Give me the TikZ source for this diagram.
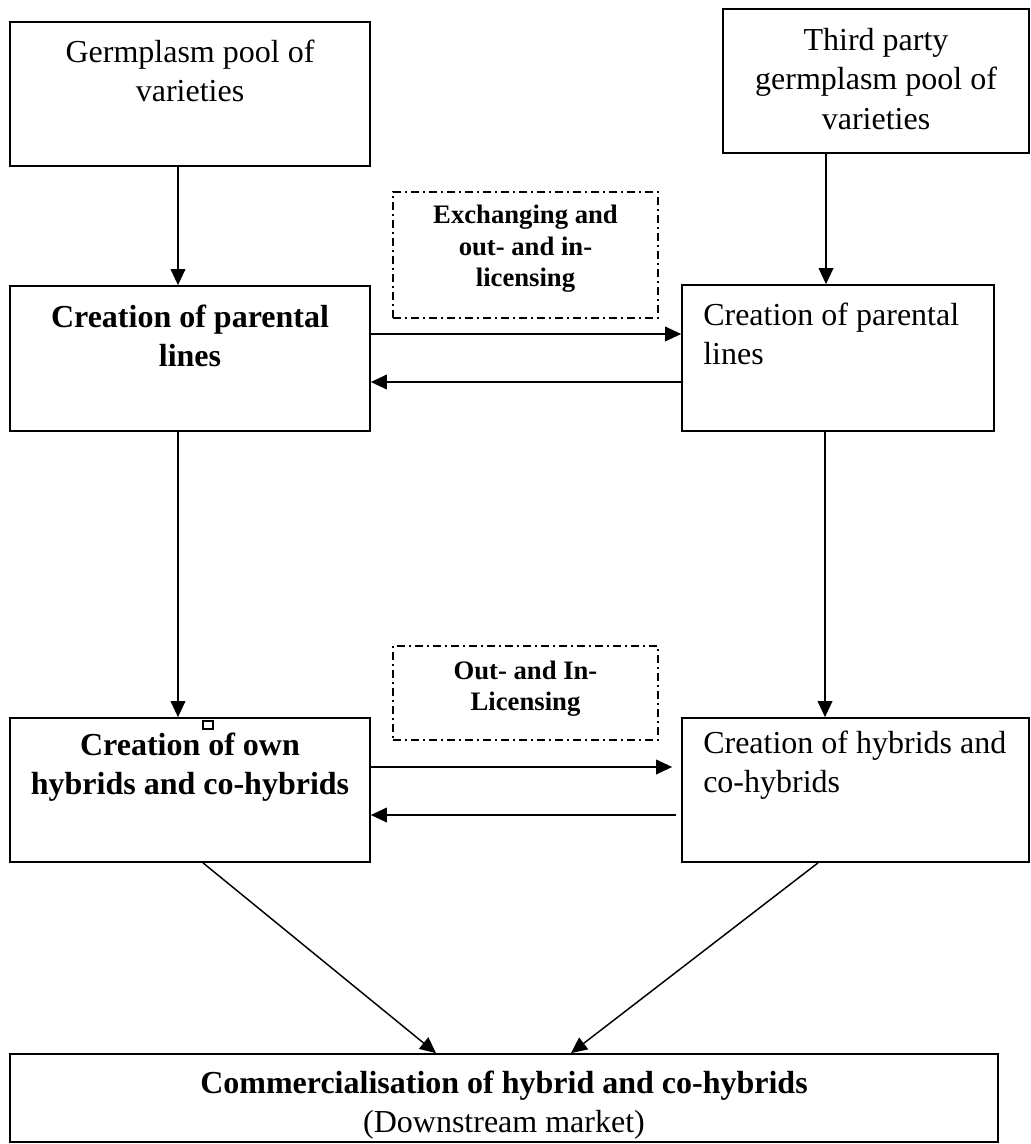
\documentclass[tikz,border=0pt]{standalone}
\usepackage{fontspec}
\setmainfont{Liberation Serif}
\usetikzlibrary{arrows.meta,calc}
\begin{document}
\begin{tikzpicture}[x=0.75pt,y=-0.75pt,
 box/.style={draw,line width=1.3pt,inner sep=0,rectangle},
 dbox/.style={draw,line width=1.1pt,inner sep=0,rectangle,dash pattern=on 6pt off 3pt on 1.5pt off 3pt},
 txt/.style={inner sep=0,align=center,font=\fontsize{24}{29.5}\selectfont},
 btxt/.style={inner sep=0,align=center,font=\fontsize{24}{29.5}\selectfont\bfseries},
 ltxt/.style={inner sep=0,align=left,anchor=west,font=\fontsize{24}{29.5}\selectfont},
 dtxt/.style={inner sep=0,align=center,font=\fontsize{20}{23.5}\selectfont\bfseries},
 arr/.style={line width=1.1pt,-{Triangle[length=12pt,width=11pt]}},
]
\useasboundingbox (0,0) rectangle (1030,1144);
% boxes
\node[box,minimum width=270pt,minimum height=108pt] (b1) at (190,94) {};
\node[box,minimum width=229.5pt,minimum height=108pt] (b2) at (876,81) {};
\node[box,minimum width=270pt,minimum height=108.75pt] (b3) at (190,358.5) {};
\node[box,minimum width=234pt,minimum height=109.5pt] (b4) at (838,358) {};
\node[box,minimum width=270pt,minimum height=108pt] (b5) at (190,790) {};
\node[box,minimum width=260.25pt,minimum height=108pt] (b6) at (855.5,790) {};
\node[box,minimum width=741pt,minimum height=66pt] (b7) at (504,1098) {};
\node[dbox,minimum width=198.75pt,minimum height=94.5pt] (d1) at (525.5,255) {};
\node[dbox,minimum width=198.75pt,minimum height=70.5pt] (d2) at (525.5,693) {};
\node[draw,line width=0.8pt,inner sep=0,minimum width=7.5pt,minimum height=6pt] (sq) at (208,725) {};
% texts
\node[txt] (t1) at (190,71) {Germplasm pool of\\varieties};
\node[txt] (t2) at (876,79) {Third party\\germplasm pool of\\varieties};
\node[btxt] (t3) at (190,336) {Creation of parental\\lines};
\node[ltxt] (t4) at (703,334) {Creation of parental\\lines};
\node[btxt] (t5) at (190,767.5) {Creation of own\\hybrids and co-hybrids};
\node[ltxt] (t6) at (703,765.5) {Creation of hybrids and\\co-hybrids};
\node[txt] (t7) at (504,1105) {\textbf{Commercialisation of hybrid and co-hybrids}\\(Downstream market)};
\node[dtxt] (t8) at (525.5,249) {Exchanging and\\out- and in-\\licensing};
\node[dtxt] (t9) at (525.5,688.5) {Out- and In-\\Licensing};
% connectors
\draw[arr] ($(b1.south)+(-12,0)$) -- ($(b3.north)+(-12,0)$);
\coordinate (c2) at ($(b4.north)+(-12,0)$);
\draw[arr] (b2.south -| c2) -- (c2);
\coordinate (c3) at ($(b3.east)+(0,-24.5)$);
\draw[arr] (c3) -- (c3 -| b4.west);
\coordinate (c4) at ($(b3.east)+(0,23.5)$);
\draw[arr] (c4 -| b4.west) -- (c4);
\draw[arr] ($(b3.south)+(-12,0)$) -- ($(b5.north)+(-12,0)$);
\coordinate (c6) at ($(b4.south)+(-13,0)$);
\draw[arr] (c6) -- (c6 |- b6.north);
\coordinate (c7) at ($(b5.east)+(0,-23)$);
\draw[arr] (c7) -- ($(c7 -| b6.west)+(-9,0)$);
\coordinate (c8) at ($(b5.east)+(0,25)$);
\draw[arr] ($(c8 -| b6.west)+(-5,0)$) -- (c8);
\draw[arr] ($(b5.south)+(13,0)$) -- ($(b7.north)+(-68,0)$);
\draw[arr] ($(b6.south)+(-37.5,0)$) -- ($(b7.north)+(67,0)$);
\end{tikzpicture}
\end{document}
